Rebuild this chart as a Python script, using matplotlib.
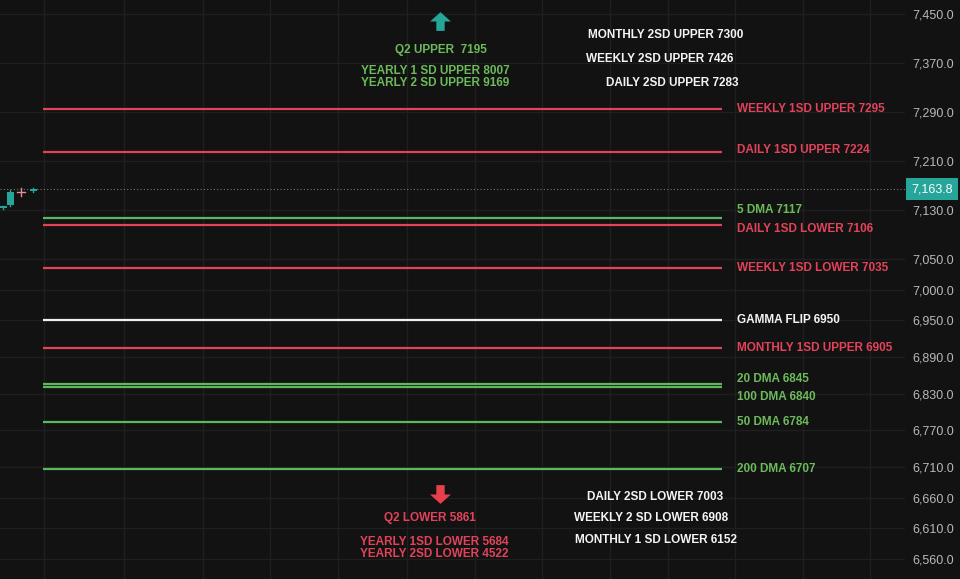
import matplotlib
matplotlib.use("Agg")
import matplotlib.pyplot as plt
from matplotlib.path import Path

plt.rcParams['font.family'] = ['Liberation Sans', 'DejaVu Sans']

# level lines drawn on the chart
level_names = ["WEEKLY 1SD UPPER", "DAILY 1SD UPPER", "5 DMA", "DAILY 1SD LOWER",
               "WEEKLY 1SD LOWER", "GAMMA FLIP", "MONTHLY 1SD UPPER",
               "20 DMA", "100 DMA", "50 DMA", "200 DMA"]
level_values = [7295, 7224, 7117, 7106, 7035, 6950, 6905, 6845, 6840, 6784, 6707]
level_kinds = ["sd", "sd", "ma", "sd", "sd", "flip", "sd", "ma", "ma", "ma", "ma"]

# off-screen levels listed as notes
upper_green = ["Q2 UPPER  7195", "YEARLY 1 SD UPPER 8007", "YEARLY 2 SD UPPER 9169"]
upper_white = ["MONTHLY 2SD UPPER 7300", "WEEKLY 2SD UPPER 7426", "DAILY 2SD UPPER 7283"]
lower_red = ["Q2 LOWER 5861", "YEARLY 1SD LOWER 5684", "YEARLY 2SD LOWER 4522"]
lower_white = ["DAILY 2SD LOWER 7003", "WEEKLY 2 SD LOWER 6908", "MONTHLY 1 SD LOWER 6152"]

# last few candles at the left edge
candle_x = [3, 10, 21, 33]
candle_open = [7133, 7138, 7160, 7161]
candle_close = [7136, 7160, 7160, 7165]
candle_high = [7137, 7163, 7166, 7166]
candle_low = [7131, 7136, 7153, 7160]
last_price = 7163.8

y_ticks = [7450, 7370, 7290, 7210, 7130, 7050, 7000, 6950, 6890, 6830, 6770, 6710, 6660, 6610, 6560]

BG = '#121212'
GRID = '#1f1f1f'
RED = '#e2435a'
GREEN = '#5cb85c'
GREEN_TXT = '#6cba5a'
TEAL = '#26a69a'
RED_ARROW = '#e8404a'
colors = {"sd": RED, "ma": GREEN, "flip": '#f0f0f0'}
txt_colors = {"sd": RED, "ma": GREEN_TXT, "flip": '#f4f4f4'}

fig = plt.figure(figsize=(9.6, 5.79), dpi=100, facecolor=BG)
ax = fig.add_axes([0, 0, 905 / 960, 1])
ax.set_facecolor(BG)
ax.set_xlim(0, 905)
ax.set_ylim(6527, 7473)

# grid
for gx in [44, 124, 203, 270, 338, 407, 475, 542, 610, 668, 735, 803, 870]:
    ax.axvline(gx, color=GRID, lw=1, zorder=0)
for t in y_ticks:
    ax.axhline(t, color=GRID, lw=1, zorder=0)

ax.yaxis.tick_right()
ax.set_yticks(y_ticks)
ax.set_yticklabels(["{:,.1f}".format(t) for t in y_ticks])
ax.tick_params(axis='y', length=0, pad=5.5, labelsize=9, labelcolor='#b8b8b8')
ax.set_xticks([])
for s in ax.spines.values():
    s.set_visible(False)

# level lines + labels
x0, x1 = 43, 722
nudge = {"5 DMA": 6, "DAILY 1SD LOWER": -3, "20 DMA": 4, "100 DMA": -7, "DAILY 1SD UPPER": 2}
for name, v, k in zip(level_names, level_values, level_kinds):
    ax.plot([x0, x1], [v, v], color=colors[k], lw=1.6, solid_capstyle='butt', zorder=3)
    ax.annotate("%s %d" % (name, v), xy=(x1, v), xytext=(10.5, nudge.get(name, 0)),
                textcoords='offset points', ha='left', va='center',
                color=txt_colors[k], fontsize=8.5, fontweight='bold')

# last price dotted line + tag
ax.axhline(last_price, color='#777777', lw=0.8, ls=(0, (1, 2)), zorder=2)
ax.annotate("{:,.1f}".format(last_price), xy=(1, last_price),
            xycoords=('axes fraction', 'data'), xytext=(4.5, 0), textcoords='offset points',
            ha='left', va='center', color='white', fontsize=9, annotation_clip=False,
            bbox=dict(boxstyle='square,pad=0.4', fc=TEAL, ec='none'))

# candles
for x, o, c, h, l in zip(candle_x, candle_open, candle_close, candle_high, candle_low):
    col = TEAL if c > o else ('#e88a96' if c == o else RED)
    ax.plot([x, x], [l, h], color=col, lw=1, zorder=4)
    lo, hi = min(o, c), max(o, c)
    if hi - lo < 1:
        ax.plot([x - 4, x + 4], [o, o], color=col, lw=1, zorder=4)
    else:
        ax.bar(x, hi - lo, bottom=lo, width=7, color=col, zorder=4)

# notes for off-chart levels
def note_block(lines, xs, ys, color):
    for t, x, y in zip(lines, xs, ys):
        ax.text(x / 905, 1 - y / 579, t, transform=ax.transAxes, ha='center', va='center',
                color=color, fontsize=8.5, fontweight='bold')

note_block(upper_green, [441, 435, 435], [50, 71, 83], GREEN_TXT)
note_block(upper_white, [666, 660, 672], [35, 59, 83], '#f4f4f4')
note_block(lower_red, [430, 434, 434], [518, 542, 554], RED)
note_block(lower_white, [655, 651, 656], [497, 518, 540], '#f4f4f4')

# arrows as marker shapes
up_verts = [(-0.2, -0.45), (0.2, -0.45), (0.2, 0.0), (0.5, 0.0), (0.0, 0.45),
            (-0.5, 0.0), (-0.2, 0.0), (-0.2, -0.45)]
up_arrow = Path(up_verts, closed=True)
down_arrow = Path([(vx, -vy) for vx, vy in up_verts], closed=True)
ax.plot([440 / 905], [1 - 21 / 579], marker=up_arrow, ms=15, color=TEAL, mew=0,
        transform=ax.transAxes, ls='none')
ax.plot([440 / 905], [1 - 494 / 579], marker=down_arrow, ms=15, color=RED_ARROW, mew=0,
        transform=ax.transAxes, ls='none')

fig.savefig("out.png", dpi=100, facecolor=BG)
